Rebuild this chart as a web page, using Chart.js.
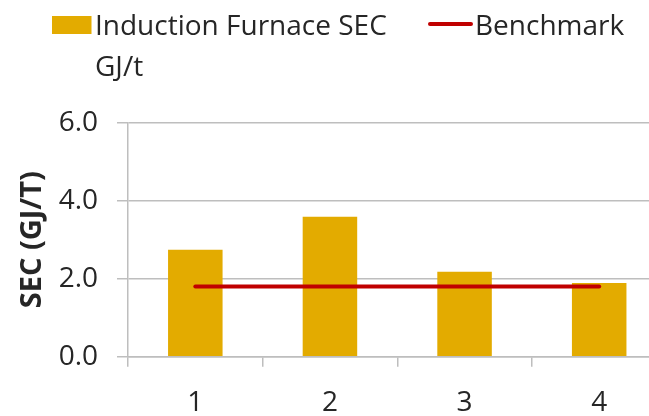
<!DOCTYPE html>
<html>
<head>
<meta charset="utf-8">
<script src="https://cdn.jsdelivr.net/npm/chart.js@4/dist/chart.umd.min.js"></script>
<style>
    html, body { margin: 0; padding: 0; background: #fff; overflow: hidden; }
    #wrap { width: 680px; height: 416px; position: relative; }
</style>
</head>
<body>
<div id="wrap"><canvas id="secChart"></canvas></div>
<script>
// Chart data
const categories = ['1', '2', '3', '4'];
const secValues = [2.74, 3.59, 2.18, 1.89];
const benchmarkValues = [1.8, 1.8, 1.8, 1.8];
const secLabel = ['Induction Furnace SEC', 'GJ/t'];
const benchmarkLabel = 'Benchmark';
const yTicks = [0, 2, 4, 6];
const yTitle = 'SEC (GJ/T)';

const barColor = '#E3AB00';
const lineColor = '#C00000';
const gridColor = '#BEBEBE';
const textColor = '#262626';
const fontFamily = '"Open Sans", "Noto Sans", sans-serif';

// Legend drawn on top, with the wrapped first label
const topLegend = {
    id: 'topLegend',
    afterDraw(chart) {
        const ctx = chart.ctx;
        const sets = chart.data.datasets;
        ctx.save();
        ctx.font = `28px ${fontFamily}`;
        ctx.textBaseline = 'alphabetic';

        // bar entry
        ctx.fillStyle = sets[0].backgroundColor;
        ctx.fillRect(52, 16, 39.5, 18);
        ctx.fillStyle = textColor;
        const lines = Array.isArray(sets[0].label) ? sets[0].label : [sets[0].label];
        lines.forEach((line, i) => ctx.fillText(line, 95, 35 + i * 41));

        // line entry
        ctx.strokeStyle = sets[1].borderColor;
        ctx.lineWidth = 4;
        ctx.lineCap = 'round';
        ctx.beginPath();
        ctx.moveTo(430, 24);
        ctx.lineTo(471, 24);
        ctx.stroke();
        ctx.fillText(sets[1].label, 475, 35);
        ctx.restore();
    }
};

new Chart(document.getElementById('secChart'), {
    type: 'bar',
    data: {
        labels: categories,
        datasets: [
            {
                label: secLabel,
                data: secValues,
                backgroundColor: barColor,
                barPercentage: 0.405,
                categoryPercentage: 1,
                order: 2,
            },
            {
                type: 'line',
                label: benchmarkLabel,
                data: benchmarkValues,
                borderColor: lineColor,
                backgroundColor: lineColor,
                borderWidth: 4,
                borderCapStyle: 'round',
                pointRadius: 0,
                fill: false,
                order: 1,
            },
        ],
    },
    options: {
        responsive: true,
        maintainAspectRatio: false,
        animation: false,
        layout: { padding: { top: 122.7, right: 13.5, bottom: 0, left: 0 } },
        plugins: {
            legend: { display: false },
            tooltip: { enabled: false },
        },
        scales: {
            x: {
                grid: { drawOnChartArea: false, drawTicks: true, tickLength: 10, color: gridColor, lineWidth: 1.5 },
                border: { color: gridColor, width: 1.5 },
                ticks: { color: textColor, font: { family: fontFamily, size: 28 }, padding: 20, maxRotation: 0 },
                afterFit(scale) { scale.height = 59.3; },
            },
            y: {
                min: 0,
                max: 6,
                afterBuildTicks(scale) { scale.ticks = yTicks.map(v => ({ value: v })); },
                grid: { color: gridColor, lineWidth: 1.5, tickLength: 11 },
                border: { color: gridColor, width: 1.5 },
                ticks: {
                    color: textColor,
                    font: { family: fontFamily, size: 28 },
                    padding: 19,
                    callback: v => v.toFixed(1),
                },
                title: {
                    display: true,
                    text: yTitle,
                    color: textColor,
                    font: { family: fontFamily, size: 29, weight: 'bold' },
                    padding: { top: 15, bottom: 0 },
                },
                afterFit(scale) { scale.width = 128; },
            },
        },
    },
    plugins: [topLegend],
});
</script>
</body>
</html>
